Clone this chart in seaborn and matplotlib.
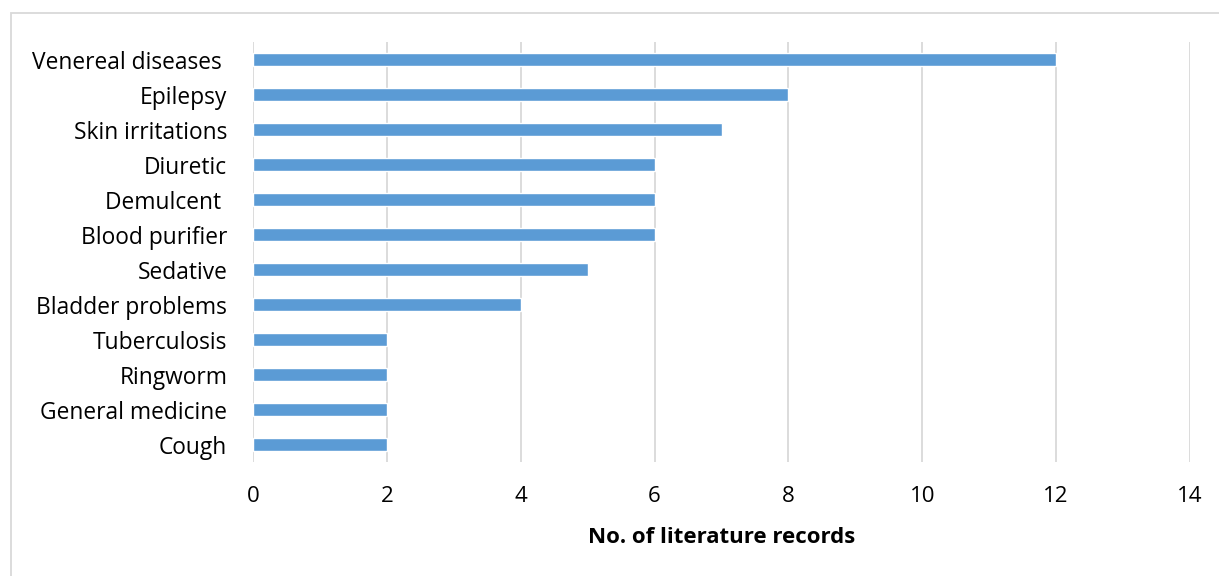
import matplotlib
matplotlib.use("Agg")
import matplotlib.pyplot as plt
import seaborn as sns
import pandas as pd
from matplotlib.patches import Rectangle

categories = ["Venereal diseases ", "Epilepsy", "Skin irritations", "Diuretic", "Demulcent ",
              "Blood purifier", "Sedative", "Bladder problems", "Tuberculosis", "Ringworm",
              "General medicine", "Cough"]
records = [12, 8, 7, 6, 6, 6, 5, 4, 2, 2, 2, 2]
xticks = [0, 2, 4, 6, 8, 10, 12, 14]

sns.set_theme(style="white")
plt.rcParams['font.family'] = ['Open Sans', 'DejaVu Sans']
plt.rcParams['text.color'] = 'black'
plt.rcParams['xtick.color'] = 'black'
plt.rcParams['ytick.color'] = 'black'
plt.rcParams['axes.labelcolor'] = 'black'

df = pd.DataFrame({"cat": categories, "n": records})

fig = plt.figure(figsize=(12.19, 5.76), dpi=100)
ax = fig.add_axes([253/1219, 1 - 462/576, (1190 - 253)/1219, (462 - 42)/576])

sns.barplot(data=df, x="n", y="cat", ax=ax, color="#5B9BD5", width=0.35,
            saturation=1, orient="h", zorder=3)

ax.set_xlim(0, 14)
ax.set_ylim(11.5, -0.5)
ax.set_xticks(xticks)
ax.set_xticklabels([str(t) for t in xticks], fontsize=16)
ax.tick_params(axis="y", labelsize=16.4, length=0, pad=18.5)
ax.tick_params(axis="x", length=0, pad=17)
ax.xaxis.grid(True, color="#D9D9D9", linewidth=1.3, zorder=0)
ax.yaxis.grid(False)
for s in ax.spines.values():
    s.set_visible(False)
ax.set_ylabel("")
ax.set_xlabel("No. of literature records", fontsize=16, fontweight="bold", labelpad=15)

fig.patches.append(Rectangle((11/1219, -0.1), 1.2, 1 - 13/576 + 0.1, transform=fig.transFigure,
                             fill=False, edgecolor="#D9D9D9", linewidth=1.3))

fig.savefig("out.png", dpi=100)
